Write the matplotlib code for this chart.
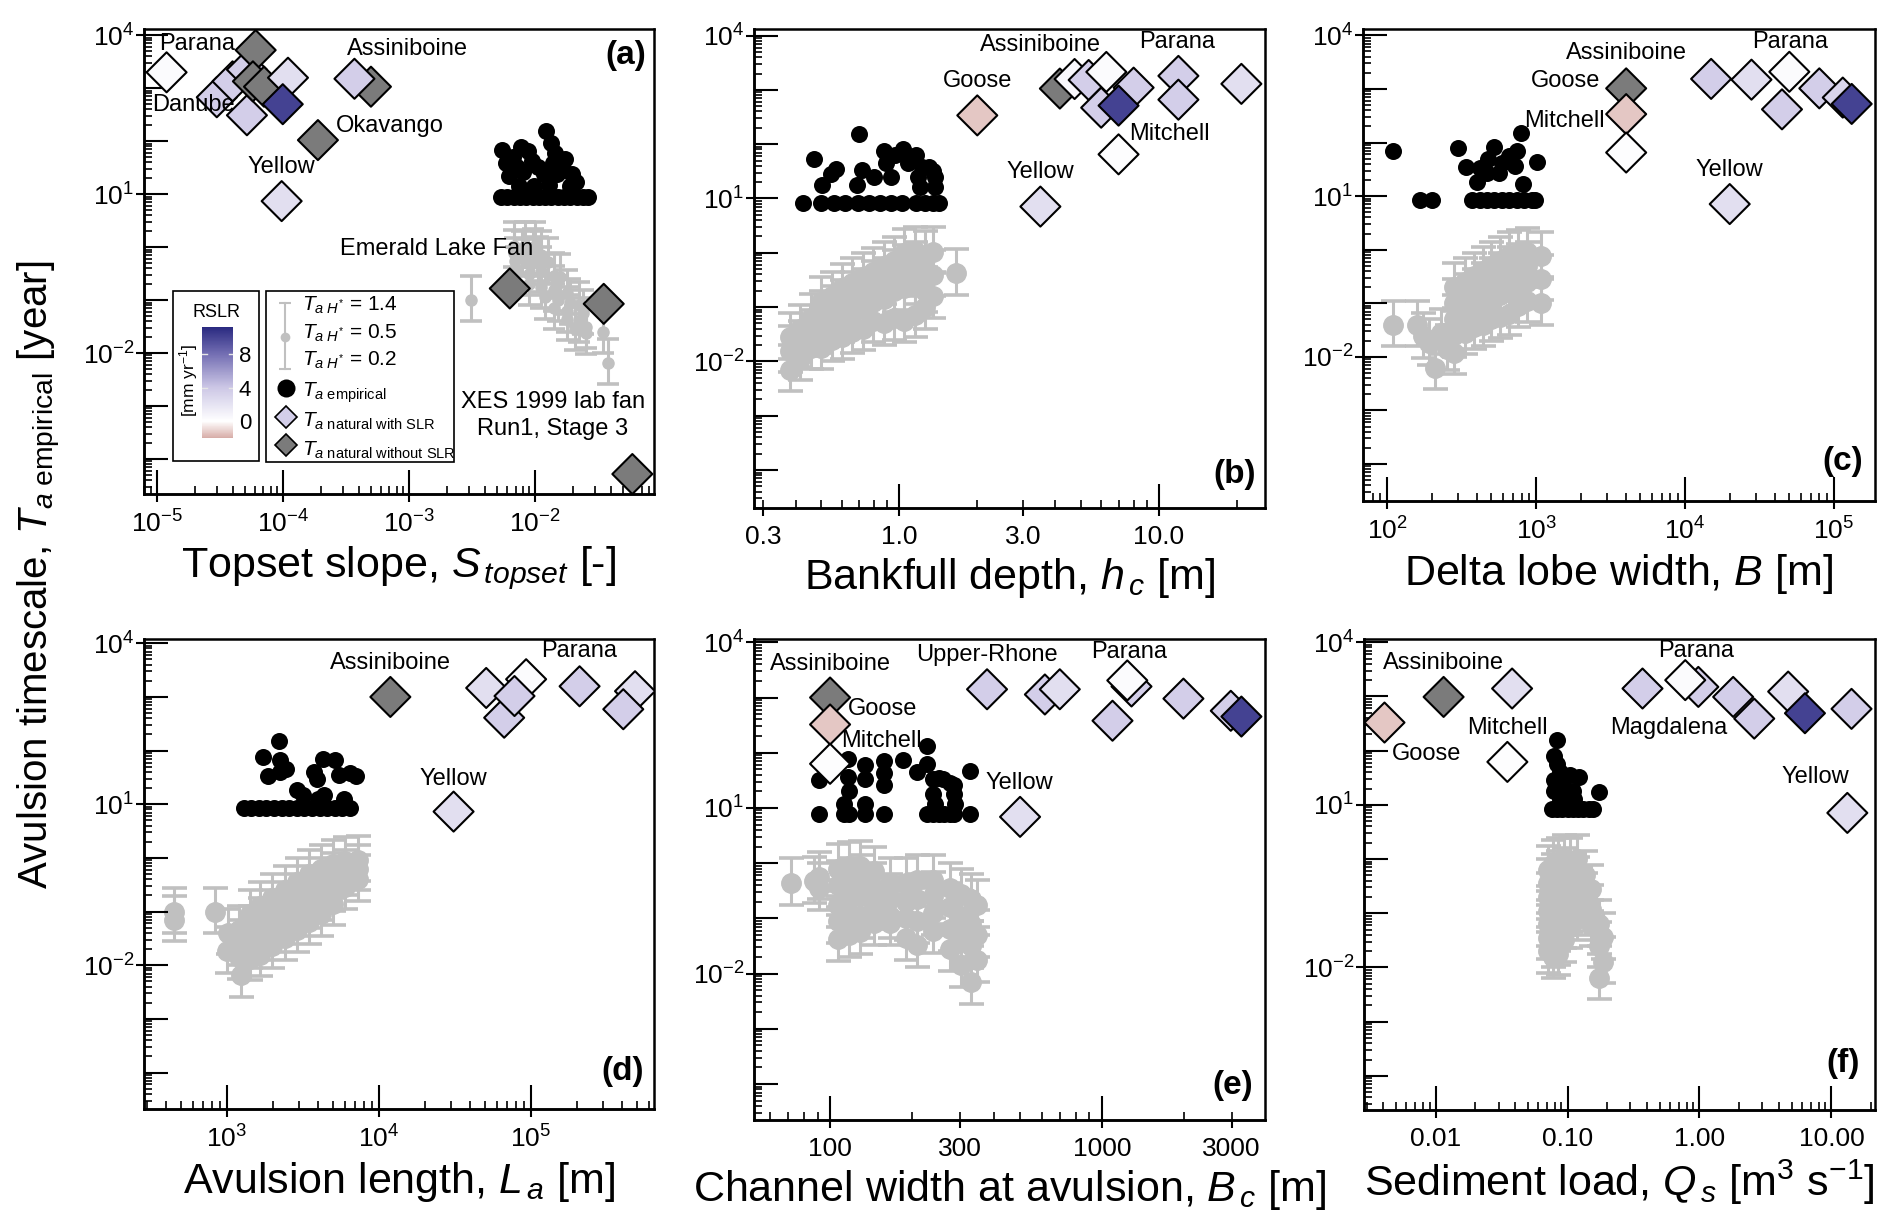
import numpy as np
import matplotlib
matplotlib.use('Agg')
import matplotlib.pyplot as plt
from matplotlib.colors import LinearSegmentedColormap, Normalize
from matplotlib.ticker import LogLocator, NullFormatter, NullLocator
from matplotlib.patches import Rectangle
import matplotlib.cm as cm

plt.rcParams['font.family'] = ['Liberation Sans', 'DejaVu Sans']
plt.rcParams['mathtext.fontset'] = 'custom'
plt.rcParams['mathtext.rm'] = 'Liberation Sans'
plt.rcParams['mathtext.it'] = 'Liberation Sans:italic'
plt.rcParams['mathtext.bf'] = 'Liberation Sans:bold'

# ---------------- constants of the lab data (H* values of the error bars)
H_LOW, H_MID, H_HIGH = 0.2, 0.5, 1.4

# ---------------- RSLR colour scale
RSLR_MIN, RSLR_MAX = -2.0, 11.2
RSLR_NODES = [-2.0, 0.0, 4.0, 8.0, 11.2]
RSLR_COLORS = [(0.84, 0.67, 0.65), (1.0, 1.0, 1.0), (0.80, 0.78, 0.90),
               (0.45, 0.43, 0.70), (0.16, 0.16, 0.50)]
NO_SLR_GREY = '#7b7b7b'
LAB_GREY = '#c0c0c0'

# ======================= panel (a): topset slope ========================
A_LAB_LX = [-2.17, -2.08, -2.00, -2.17, -2.10, -2.02, -1.95, -2.16, -2.06, -1.98, -1.90,
            -2.15, -2.05, -1.95, -1.85, -1.80, -2.05, -1.95, -1.85, -1.75, -1.92, -1.82,
            -1.72, -1.65, -1.85, -1.75, -1.62, -1.75, -1.65, -1.60, -1.68, -1.60,
            -2.51, -1.465, -1.425]
A_LAB_LY = [0.03, 0.02, 0.03, -0.12, -0.15, -0.10, -0.15, -0.27, -0.30, -0.25, -0.28,
            -0.45, -0.50, -0.45, -0.55, -0.57, -0.70, -0.75, -0.80, -0.87, -0.95, -1.00,
            -1.05, -1.10, -1.15, -1.20, -1.25, -1.35, -1.40, -1.50, -1.55, -1.62,
            -1.00, -1.61, -2.19]
A_EMP_LX = [-2.27, -2.22, -2.17, -2.12, -2.07, -2.02, -1.97, -1.92, -1.87, -1.82, -1.77,
            -1.72, -1.67, -1.62, -1.58,
            -2.26, -2.177, -2.11, -2.06, -2.227, -2.143, -2.026, -2.21, -2.093, -1.976,
            -1.926, -2.127, -2.01, -1.893, -1.91, -1.876, -1.843, -1.759, -1.776, -1.826,
            -1.709, -1.676, -1.726, -1.86]
A_EMP_LY = [0.94, 0.94, 0.94, 0.94, 0.94, 0.94, 0.94, 0.94, 0.94, 0.94, 0.94,
            0.94, 0.94, 0.94, 0.94,
            1.836, 1.709, 1.896, 1.821, 1.597, 1.522, 1.634, 1.336, 1.41, 1.522,
            1.373, 1.149, 1.149, 1.164, 2.194, 1.97, 1.784, 1.672, 1.448, 1.373,
            1.373, 1.224, 1.149, 1.597]
A_NAT_X = [3.0e-5, 4.0e-5, 5.2e-5, 5.2e-5, 1.2e-5, 6.1e-5, 5.8e-5, 7.1e-5, 1.1e-4, 1.0e-4,
           1.9e-4, 5.0e-4, 3.7e-4, 9.8e-5, 6.3e-3, 0.035, 0.059]
A_NAT_Y = [676, 1350, 2240, 309, 2000, 5250, 1350, 1070, 1580, 500,
           105, 1070, 1510, 7.4, 0.166, 0.085, 5.2e-5]
A_NAT_RSLR = [3.5, 3.5, 3.5, 3.5, 0.3, np.nan, np.nan, np.nan, 2.3, 10.0,
              np.nan, np.nan, 3.5, 2.3, np.nan, np.nan, np.nan]
A_NAMES = ['Parana', 'Danube', 'Assiniboine', 'Okavango', 'Yellow', 'Emerald Lake Fan',
           'XES 1999 lab fan\nRun1, Stage 3']
A_NAMES_X = [2.1e-5, 1.97e-5, 9.7e-4, 7.1e-4, 9.7e-5, 1.66e-3, 0.0138]
A_NAMES_Y = [6900, 480, 5600, 192, 32, 0.93, 6.6e-4]

# ======================= panel (b): bankfull depth =======================
B_LAB_LX = [-0.42, -0.42, -0.42, -0.38, -0.38, -0.38, -0.34, -0.34, -0.34,
            -0.30, -0.30, -0.30, -0.30, -0.26, -0.26, -0.26, -0.26, -0.22, -0.22, -0.22, -0.22,
            -0.18, -0.18, -0.18, -0.18, -0.14, -0.14, -0.14, -0.14, -0.10, -0.10, -0.10, -0.10,
            -0.06, -0.06, -0.06, -0.06, -0.02, -0.02, -0.02, -0.02, 0.02, 0.02, 0.02, 0.02,
            0.06, 0.06, 0.06, 0.06, 0.10, 0.10, 0.10, 0.10, 0.13, 0.13, 0.13, 0.22]
B_LAB_LY = [-1.55, -1.80, -2.15, -1.40, -1.70, -1.95, -1.20, -1.50, -1.75,
            -0.90, -1.15, -1.45, -1.75, -0.80, -1.05, -1.30, -1.60, -0.65, -0.95, -1.25, -1.55,
            -0.55, -0.80, -1.10, -1.45, -0.45, -0.75, -1.00, -1.40, -0.35, -0.60, -0.90, -1.25,
            -0.25, -0.55, -0.85, -1.30, -0.15, -0.40, -0.70, -1.20, 0.00, -0.30, -0.65, -1.25,
            0.03, -0.25, -0.55, -1.15, -0.05, -0.35, -0.70, -1.00, 0.02, -0.40, -0.80, -0.37]
B_EMP_LX = [-0.37, -0.30, -0.25, -0.21, -0.16, -0.115, -0.075, -0.03, 0.01, 0.065, 0.10,
            0.13, 0.155,
            -0.326, -0.296, -0.261, -0.244, -0.155, -0.163, -0.143, -0.098, -0.057, -0.049,
            -0.033, -0.016, 0.016, 0.033, 0.065, 0.073, 0.09, 0.114, 0.13, 0.138, 0.138, 0.081]
B_EMP_LY = [0.912, 0.912, 0.912, 0.912, 0.912, 0.912, 0.912, 0.912, 0.912, 0.912, 0.912,
            0.912, 0.912,
            1.727, 1.254, 1.45, 1.546, 2.18, 1.254, 1.52, 1.40, 1.873, 1.655,
            1.40, 1.80, 1.91, 1.655, 1.80, 1.40, 1.58, 1.58, 1.51, 1.40, 1.218, 1.218]
B_NAT_X = [4.16, 4.74, 5.37, 6.28, 8.0, 6.0, 7.0, 11.9, 11.9, 20.8, 2.0, 3.5, 7.0]
B_NAT_Y = [1057, 1585, 1520, 2140, 1100, 470, 513, 1810, 660, 1290, 339, 7.1, 65]
B_NAT_RSLR = [np.nan, 0.5, 3.5, 0.3, 3.5, 3.5, 10.0, 3.5, 3.5, 2.3, -1.3, 2.3, 0.2]
B_NAMES = ['Assiniboine', 'Parana', 'Goose', 'Mitchell', 'Yellow']
B_NAMES_X = [3.51, 11.8, 2.0, 11.0, 3.51]
B_NAMES_Y = [6690, 7520, 1450, 152, 31]

# ======================= panel (c): delta lobe width =====================
C_LAB_LX = [2.04, 2.20, 2.24, 2.32, 2.28, 2.36, 2.40, 2.45,
            2.45, 2.45, 2.45, 2.45, 2.52, 2.52, 2.52, 2.52, 2.58, 2.58, 2.58, 2.58,
            2.64, 2.64, 2.64, 2.64, 2.70, 2.70, 2.70, 2.70, 2.76, 2.76, 2.76, 2.76,
            2.82, 2.82, 2.82, 2.82, 2.88, 2.88, 2.88, 2.88, 2.94, 2.94, 2.94, 2.94,
            3.03, 3.03, 3.03]
C_LAB_LY = [-1.40, -1.40, -1.62, -2.21, -1.75, -1.55, -1.85, -1.92,
            -0.70, -1.00, -1.30, -1.60, -0.60, -0.90, -1.20, -1.55, -0.50, -0.80, -1.10, -1.45,
            -0.40, -0.70, -1.05, -1.40, -0.30, -0.60, -0.95, -1.30, -0.22, -0.50, -0.85, -1.25,
            -0.12, -0.40, -0.75, -1.20, -0.08, -0.35, -0.65, -1.05, -0.05, -0.30, -0.60, -0.95,
            -0.11, -1.00, -0.55]
C_EMP_LX = [2.218, 2.30, 2.57, 2.62, 2.67, 2.72, 2.77, 2.82, 2.87, 2.92, 2.97, 2.99,
            2.04, 2.476, 2.53, 2.60, 2.62, 2.72, 2.68, 2.77, 2.816, 2.87, 2.90, 2.91, 3.005,
            2.86, 2.67, 2.75]
C_EMP_LY = [0.923, 0.923, 0.923, 0.923, 0.923, 0.923, 0.923, 0.923, 0.923, 0.923, 0.923, 0.923,
            1.845, 1.90, 1.55, 1.255, 1.52, 1.92, 1.70, 1.62, 1.74, 1.845, 2.18, 1.23, 1.63,
            1.56, 1.43, 1.43]
C_NAT_X = [4030, 4030, 4030, 15000, 28000, 50300, 44900, 80000, 115000, 132000, 20000]
C_NAT_Y = [1025, 339, 65, 1540, 1490, 2090, 416, 1025, 690, 525, 7.1]
C_NAT_RSLR = [np.nan, -1.3, 0.2, 3.5, 2.3, 0.3, 3.5, 3.5, 3.0, 10.0, 2.3]
C_NAMES = ['Assiniboine', 'Parana', 'Goose', 'Mitchell', 'Yellow']
C_NAMES_X = [4030, 50800, 1590, 1540, 20000]
C_NAMES_Y = [4650, 7500, 1410, 257, 31]

# ======================= panel (d): avulsion length ======================
D_LAB_LX = [2.65, 2.65, 2.925, 3.01, 3.00, 3.09, 3.08, 3.08, 3.08,
            3.15, 3.15, 3.15, 3.15, 3.22, 3.22, 3.22, 3.22, 3.30, 3.30, 3.30, 3.30,
            3.38, 3.38, 3.38, 3.38, 3.46, 3.46, 3.46, 3.46, 3.54, 3.54, 3.54, 3.54,
            3.62, 3.62, 3.62, 3.62, 3.70, 3.70, 3.70, 3.70, 3.78, 3.78, 3.78, 3.86, 3.86, 3.86]
D_LAB_LY = [-1.00, -1.15, -1.00, -1.40, -1.74, -2.19, -1.35, -1.60, -1.85,
            -1.05, -1.35, -1.65, -1.88, -0.90, -1.20, -1.50, -1.80, -0.75, -1.05, -1.35, -1.65,
            -0.60, -0.90, -1.20, -1.50, -0.45, -0.75, -1.05, -1.35, -0.30, -0.60, -0.90, -1.20,
            -0.20, -0.45, -0.75, -1.05, -0.12, -0.35, -0.60, -0.85, -0.06, -0.30, -0.55,
            -0.04, -0.20, -0.40]
D_EMP_LX = [3.11, 3.16, 3.21, 3.26, 3.31, 3.36, 3.41, 3.46, 3.51, 3.56, 3.61, 3.66, 3.71,
            3.76, 3.81,
            3.34, 3.24, 3.35, 3.27, 3.35, 3.46, 3.50, 3.57, 3.63, 3.71, 3.74, 3.64, 3.60,
            3.77, 3.81, 3.85, 3.39, 3.59]
D_EMP_LY = [0.922, 0.922, 0.922, 0.922, 0.922, 0.922, 0.922, 0.922, 0.922, 0.922, 0.922,
            0.922, 0.922, 0.922, 0.922,
            2.186, 1.89, 1.83, 1.53, 1.60, 1.27, 1.18, 1.60, 1.85, 1.82, 1.54, 1.18, 1.10,
            1.10, 1.58, 1.53, 1.65, 1.48]
D_NAT_X = [66700, 50800, 93000, 78000, 209000, 484000, 405000, 31000, 11900]
D_NAT_Y = [410, 1470, 2140, 1040, 1580, 1280, 590, 7.3, 1000]
D_NAT_RSLR = [3.5, 2.3, 0.3, 3.5, 3.5, 2.3, 3.5, 2.3, np.nan]
D_NAMES = ['Assiniboine', 'Parana', 'Yellow']
D_NAMES_X = [11900, 209000, 31000]
D_NAMES_Y = [4250, 7100, 30]

# ======================= panel (e): channel width ========================
E_LAB_LX = [1.857, 1.94, 1.96, 1.96,
            2.03, 2.03, 2.03, 2.03, 2.03, 2.07, 2.07, 2.07, 2.07, 2.07,
            2.11, 2.11, 2.11, 2.11, 2.11, 2.16, 2.16, 2.16, 2.16, 2.22, 2.22, 2.22, 2.22,
            2.28, 2.28, 2.28, 2.28, 2.32, 2.32, 2.32, 2.32, 2.38, 2.38, 2.38, 2.38,
            2.44, 2.44, 2.44, 2.44, 2.48, 2.48, 2.48, 2.48, 2.52, 2.52, 2.52, 2.52,
            2.54, 2.54, 2.54]
E_LAB_LY = [-0.36, -0.33, -0.45, -0.25,
            -0.10, -0.40, -0.75, -1.05, -1.38, -0.06, -0.35, -0.65, -1.00, -1.30,
            -0.05, -0.30, -0.60, -0.95, -1.25, -0.15, -0.45, -0.80, -1.08, -0.35, -0.65, -0.95, -1.08,
            -0.35, -0.70, -1.00, -1.35, -0.30, -0.65, -1.05, -1.49, -0.30, -0.60, -0.90, -1.22,
            -0.45, -0.80, -1.20, -1.55, -0.55, -0.95, -1.35, -1.85, -0.65, -1.10, -1.50, -2.15,
            -0.75, -1.30, -1.75]
E_EMP_LX = [1.958, 2.05, 2.07, 2.13, 2.20, 2.355, 2.38, 2.40, 2.42, 2.44, 2.456, 2.515,
            1.958, 2.065, 2.065, 2.07, 2.05, 2.13, 2.13, 2.13, 2.20, 2.20, 2.20, 2.27, 2.32,
            2.355, 2.355, 2.378, 2.40, 2.417, 2.44, 2.456, 2.456, 2.38, 2.515, 2.46, 2.385]
E_EMP_LY = [0.895, 0.895, 0.895, 0.895, 0.895, 0.895, 0.895, 0.895, 0.895, 0.895, 0.895, 0.895,
            1.505, 1.89, 1.56, 1.30, 1.08, 1.78, 1.52, 1.08, 1.855, 1.63, 1.415, 1.87, 1.65,
            1.80, 2.13, 1.52, 1.55, 1.52, 1.45, 1.415, 1.25, 1.25, 1.67, 1.08, 1.08]
E_NAT_X = [100, 100, 100, 378, 617, 700, 1285, 1240, 1094, 1995, 2980, 3260, 500]
E_NAT_Y = [1000, 325, 63, 1410, 1135, 1410, 1585, 2040, 380, 955, 575, 452, 6.9]
E_NAT_RSLR = [np.nan, -1.3, 0.2, 3.5, 3.5, 2.3, 3.5, 0.3, 3.5, 3.5, 3.5, 10.0, 2.3]
E_NAMES = ['Assiniboine', 'Upper-Rhone', 'Parana', 'Goose', 'Mitchell', 'Yellow']
E_NAMES_X = [100, 378, 1260, 156, 155, 498]
E_NAMES_Y = [3980, 5860, 6590, 610, 166, 28]

# ======================= panel (f): sediment load ========================
F_LAB_LX = [-1.15, -1.15, -1.15, -1.15, -1.15, -1.15, -1.15,
            -1.11, -1.11, -1.11, -1.11, -1.11, -1.11, -1.11, -1.11,
            -1.07, -1.07, -1.07, -1.07, -1.07, -1.07, -1.07, -1.07,
            -1.03, -1.03, -1.03, -1.03, -1.03, -1.03, -1.03,
            -0.98, -0.98, -0.98, -0.98, -0.98, -0.93, -0.93, -0.93, -0.93,
            -0.87, -0.87, -0.87, -0.82, -0.82, -0.82, -0.76, -0.76, -0.76, -0.73, -0.73]
F_LAB_LY = [-0.20, -0.45, -0.70, -0.95, -1.20, -1.45, -1.70,
            -0.10, -0.35, -0.60, -0.85, -1.10, -1.35, -1.60, -1.80,
            -0.05, -0.30, -0.55, -0.80, -1.05, -1.30, -1.55, -1.75,
            0.00, -0.25, -0.50, -0.75, -1.00, -1.25, -1.50,
            -0.05, -0.35, -0.65, -0.95, -1.25, 0.00, -0.40, -0.80, -1.10,
            -0.30, -0.70, -1.00, -0.56, -0.93, -1.20, -1.20, -1.60, -2.19, -1.44, -1.89]
F_EMP_LX = [-1.12, -1.08, -1.04, -1.00, -0.96, -0.92, -0.88, -0.84, -0.81,
            -1.08, -1.10, -1.08, -1.06, -1.10, -1.04, -1.10, -1.02, -0.98, -0.91, -0.96,
            -0.76, -1.06, -0.95]
F_EMP_LY = [0.926, 0.926, 0.926, 0.926, 0.926, 0.926, 0.926, 0.926, 0.926,
            2.19, 1.90, 1.75, 1.60, 1.45, 1.40, 1.25, 1.20, 1.55, 1.52, 1.25,
            1.23, 1.10, 1.10]
F_NAT_X = [0.0041, 0.0115, 0.038, 0.035, 0.37, 0.98, 0.78, 1.8, 2.6, 4.7, 6.3, 14.2, 13.2]
F_NAT_Y = [330, 980, 1400, 62, 1400, 1500, 2000, 980, 390, 1230, 490, 590, 7.1]
F_NAT_RSLR = [-1.3, np.nan, 2.3, 0.2, 3.5, 3.5, 0.3, 3.5, 3.5, 2.3, 10.0, 3.5, 2.3]
F_NAMES = ['Assiniboine', 'Parana', 'Mitchell', 'Goose', 'Magdalena', 'Yellow']
F_NAMES_X = [0.0115, 0.95, 0.035, 0.0086, 0.59, 7.6]
F_NAMES_Y = [4110, 6750, 263, 87, 263, 32]

# ---------------- axis texts
XLABELS = [r'Topset slope, $S_{\,topset}$ [-]', r'Bankfull depth, $h_{\,c}$ [m]',
           r'Delta lobe width, $B$ [m]', r'Avulsion length, $L_{\,a}$ [m]',
           r'Channel width at avulsion, $B_{\,c}$ [m]',
           r'Sediment load, $Q_{\,s}$ [m$^3$ s$^{-1}$]']
TAGS = ['(a)', '(b)', '(c)', '(d)', '(e)', '(f)']
XTICKS = [[1e-5, 1e-4, 1e-3, 1e-2], [0.3, 1.0, 3.0, 10.0], [1e2, 1e3, 1e4, 1e5],
          [1e3, 1e4, 1e5], [100, 300, 1000, 3000], [0.01, 0.1, 1.0, 10.0]]
XTICKLABELS = [[r'$10^{-5}$', r'$10^{-4}$', r'$10^{-3}$', r'$10^{-2}$'],
               ['0.3', '1.0', '3.0', '10.0'],
               [r'$10^{2}$', r'$10^{3}$', r'$10^{4}$', r'$10^{5}$'],
               [r'$10^{3}$', r'$10^{4}$', r'$10^{5}$'],
               ['100', '300', '1000', '3000'],
               ['0.01', '0.10', '1.00', '10.00']]
YTICKS = [1e4, 1e1, 1e-2]
YTICKLABELS = [r'$10^{4}$', r'$10^{1}$', r'$10^{-2}$']

# ---------------- layout (figure fractions) and limits
RECTS = [[0.0761, 0.5971, 0.2696, 0.3793], [0.3985, 0.5856, 0.2701, 0.3907],
         [0.7204, 0.5914, 0.2706, 0.3850], [0.0761, 0.0954, 0.2696, 0.3834],
         [0.3985, 0.0865, 0.2701, 0.3923], [0.7209, 0.0946, 0.2701, 0.3842]]
XLIMS = [(10**-5.10, 10**-1.057), (10**-0.559, 10**1.409), (10**1.837, 10**5.277),
         (10**2.455, 10**5.81), (10**1.72, 10**3.60), (10**-2.543, 10**1.33)]
YLIMS = [(10**-4.66, 10**4.12), (10**-4.70, 10**4.12), (10**-4.69, 10**4.12),
         (10**-4.68, 10**4.08), (10**-4.65, 10**4.06), (10**-4.63, 10**4.06)]
TAGPOS = [(0.984, 0.943), (0.982, 0.071), (0.977, 0.083), (0.980, 0.079),
          (0.977, 0.071), (0.970, 0.098)]

vals = [(v - RSLR_MIN) / (RSLR_MAX - RSLR_MIN) for v in RSLR_NODES]
cmap = LinearSegmentedColormap.from_list('rslr', list(zip(vals, RSLR_COLORS)))
norm = Normalize(RSLR_MIN, RSLR_MAX)

fig = plt.figure(figsize=(18.92, 12.26), dpi=100)

PANELS = [
    (A_LAB_LX, A_LAB_LY, A_EMP_LX, A_EMP_LY, A_NAT_X, A_NAT_Y, A_NAT_RSLR, A_NAMES, A_NAMES_X, A_NAMES_Y),
    (B_LAB_LX, B_LAB_LY, B_EMP_LX, B_EMP_LY, B_NAT_X, B_NAT_Y, B_NAT_RSLR, B_NAMES, B_NAMES_X, B_NAMES_Y),
    (C_LAB_LX, C_LAB_LY, C_EMP_LX, C_EMP_LY, C_NAT_X, C_NAT_Y, C_NAT_RSLR, C_NAMES, C_NAMES_X, C_NAMES_Y),
    (D_LAB_LX, D_LAB_LY, D_EMP_LX, D_EMP_LY, D_NAT_X, D_NAT_Y, D_NAT_RSLR, D_NAMES, D_NAMES_X, D_NAMES_Y),
    (E_LAB_LX, E_LAB_LY, E_EMP_LX, E_EMP_LY, E_NAT_X, E_NAT_Y, E_NAT_RSLR, E_NAMES, E_NAMES_X, E_NAMES_Y),
    (F_LAB_LX, F_LAB_LY, F_EMP_LX, F_EMP_LY, F_NAT_X, F_NAT_Y, F_NAT_RSLR, F_NAMES, F_NAMES_X, F_NAMES_Y),
]

axes = []
for i, (lab_lx, lab_ly, emp_lx, emp_ly, nx, ny, nr, names, namx, namy) in enumerate(PANELS):
    ax = fig.add_axes(RECTS[i])
    axes.append(ax)
    ax.set_xscale('log')
    ax.set_yscale('log')

    lab_x = np.power(10.0, lab_lx)
    lab_y = np.power(10.0, lab_ly)
    lo = lab_y * (1.0 - H_LOW / H_MID)
    hi = lab_y * (H_HIGH / H_MID - 1.0)
    ms = 8 if i == 0 else 14
    cap = 8 if i == 0 else 9
    ax.errorbar(lab_x, lab_y, yerr=[lo, hi], fmt='o', color=LAB_GREY, ecolor=LAB_GREY,
                mfc=LAB_GREY, mec=LAB_GREY, ms=ms,
                capsize=cap, elinewidth=2.2, capthick=2.6, zorder=1)

    ax.scatter(np.power(10.0, emp_lx), np.power(10.0, emp_ly), s=150, c='black',
               linewidths=0, zorder=2)

    fcs = [NO_SLR_GREY if np.isnan(r) else cmap(norm(r)) for r in nr]
    ax.scatter(nx, ny, marker='D', s=415, c=fcs, edgecolors='black', linewidths=1.5,
               zorder=3)

    for t, tx, ty in zip(names, namx, namy):
        ax.text(tx, ty, t, ha='center', va='center', fontsize=17, zorder=5,
                linespacing=1.25)

    ax.set_xlim(*XLIMS[i])
    ax.set_ylim(*YLIMS[i])

    for axis in (ax.xaxis, ax.yaxis):
        axis.set_major_locator(LogLocator(base=10, numticks=40))
        axis.set_minor_locator(LogLocator(base=10, subs=np.arange(2, 10), numticks=40))
        axis.set_major_formatter(NullFormatter())
        axis.set_minor_formatter(NullFormatter())
    ax.tick_params(which='major', direction='in', length=17, width=1.5,
                   top=False, right=False, labelbottom=False, labelleft=False)
    ax.tick_params(which='minor', direction='in', length=6, width=1.2,
                   top=False, right=False)
    for sp in ax.spines.values():
        sp.set_linewidth(1.8)

    secx = ax.secondary_xaxis('bottom')
    secx.patch.set_visible(False)
    secx.set_xticks(XTICKS[i], labels=XTICKLABELS[i])
    secx.xaxis.set_minor_locator(NullLocator())
    secx.tick_params(direction='out', length=6, width=1.5, labelsize=19, pad=6)
    secx.spines['bottom'].set_linewidth(1.8)
    secx.set_xlabel(XLABELS[i], fontsize=31, labelpad=5)

    secy = ax.secondary_yaxis('left')
    secy.patch.set_visible(False)
    secy.set_yticks(YTICKS, labels=YTICKLABELS)
    secy.yaxis.set_minor_locator(NullLocator())
    secy.tick_params(direction='out', length=6, width=1.5, labelsize=19, pad=1)
    secy.spines['left'].set_linewidth(1.8)

    ax.text(TAGPOS[i][0], TAGPOS[i][1], TAGS[i], transform=ax.transAxes, ha='right',
            va='center', fontsize=24, fontweight='bold', zorder=6)

# ---------------- legend of panel (a)
ax = axes[0]
T = ax.transAxes
ax.add_patch(Rectangle((0.0563, 0.0716), 0.1697, 0.3654, transform=T, facecolor='white',
                       edgecolor='black', lw=1.2, zorder=6))
ax.add_patch(Rectangle((0.2392, 0.0695), 0.3686, 0.3675, transform=T, facecolor='white',
                       edgecolor='black', lw=1.2, zorder=6))
cax = ax.inset_axes([0.1143, 0.1198, 0.0608, 0.24])
cax.set_zorder(7)
cb = fig.colorbar(cm.ScalarMappable(norm=norm, cmap=cmap), cax=cax)
cb.set_ticks([0, 4, 8])
cb.outline.set_visible(False)
cax.tick_params(labelsize=16, length=0, pad=4)
for v in (4, 8):
    cax.axhline(v, xmin=0.0, xmax=0.15, color='#e6e6e6', lw=1.0)
    cax.axhline(v, xmin=0.85, xmax=1.0, color='#e6e6e6', lw=1.0)
ax.text(0.1426, 0.3901, 'RSLR', transform=T, ha='center', va='center', fontsize=13, zorder=8)
ax.text(0.0869, 0.2452, r'[mm yr$^{-1}$]', transform=T, ha='center', va='center',
        rotation=90, fontsize=12.5, zorder=8)

ex = 0.2765
ax.plot([ex, ex], [0.268, 0.410], transform=T, color=LAB_GREY, lw=1.5, zorder=7, clip_on=False)
ax.plot([ex, ex], [0.268, 0.410], transform=T, color=LAB_GREY, ls='none', marker='_',
        ms=9, mew=1.5, zorder=7, clip_on=False)
ax.plot([ex], [0.338], transform=T, color=LAB_GREY, marker='o', ms=7, mew=0, zorder=7)
ax.plot([0.2784], [0.2273], transform=T, color='black', marker='o', ms=13, mew=0, zorder=7)
ax.plot([0.2784], [0.1662], transform=T, marker='D', ms=11.5, mfc=cmap(norm(3.5)),
        mec='black', mew=1.2, zorder=7)
ax.plot([0.2784], [0.1054], transform=T, marker='D', ms=11.5, mfc=NO_SLR_GREY,
        mec='black', mew=1.2, zorder=7)
LEG_TEXT = [r'$T_{a\ H^{*}}$ = 1.4', r'$T_{a\ H^{*}}$ = 0.5', r'$T_{a\ H^{*}}$ = 0.2',
            r'$T_{a\ \mathrm{empirical}}$', r'$T_{a\ \mathrm{natural\ with\ SLR}}$',
            r'$T_{a\ \mathrm{natural\ without\ SLR}}$']
LEG_Y = [0.4065, 0.3456, 0.288, 0.2166, 0.1555, 0.0946]
for t, yy in zip(LEG_TEXT, LEG_Y):
    ax.text(0.309, yy, t, transform=T, ha='left', va='center', fontsize=15, zorder=8)

fig.text(0.021, 0.531, r'Avulsion timescale, $T_{a\ \mathrm{empirical}}$ [year]',
         rotation=90, ha='center', va='center', fontsize=29)

fig.savefig('out.png', dpi=100)
